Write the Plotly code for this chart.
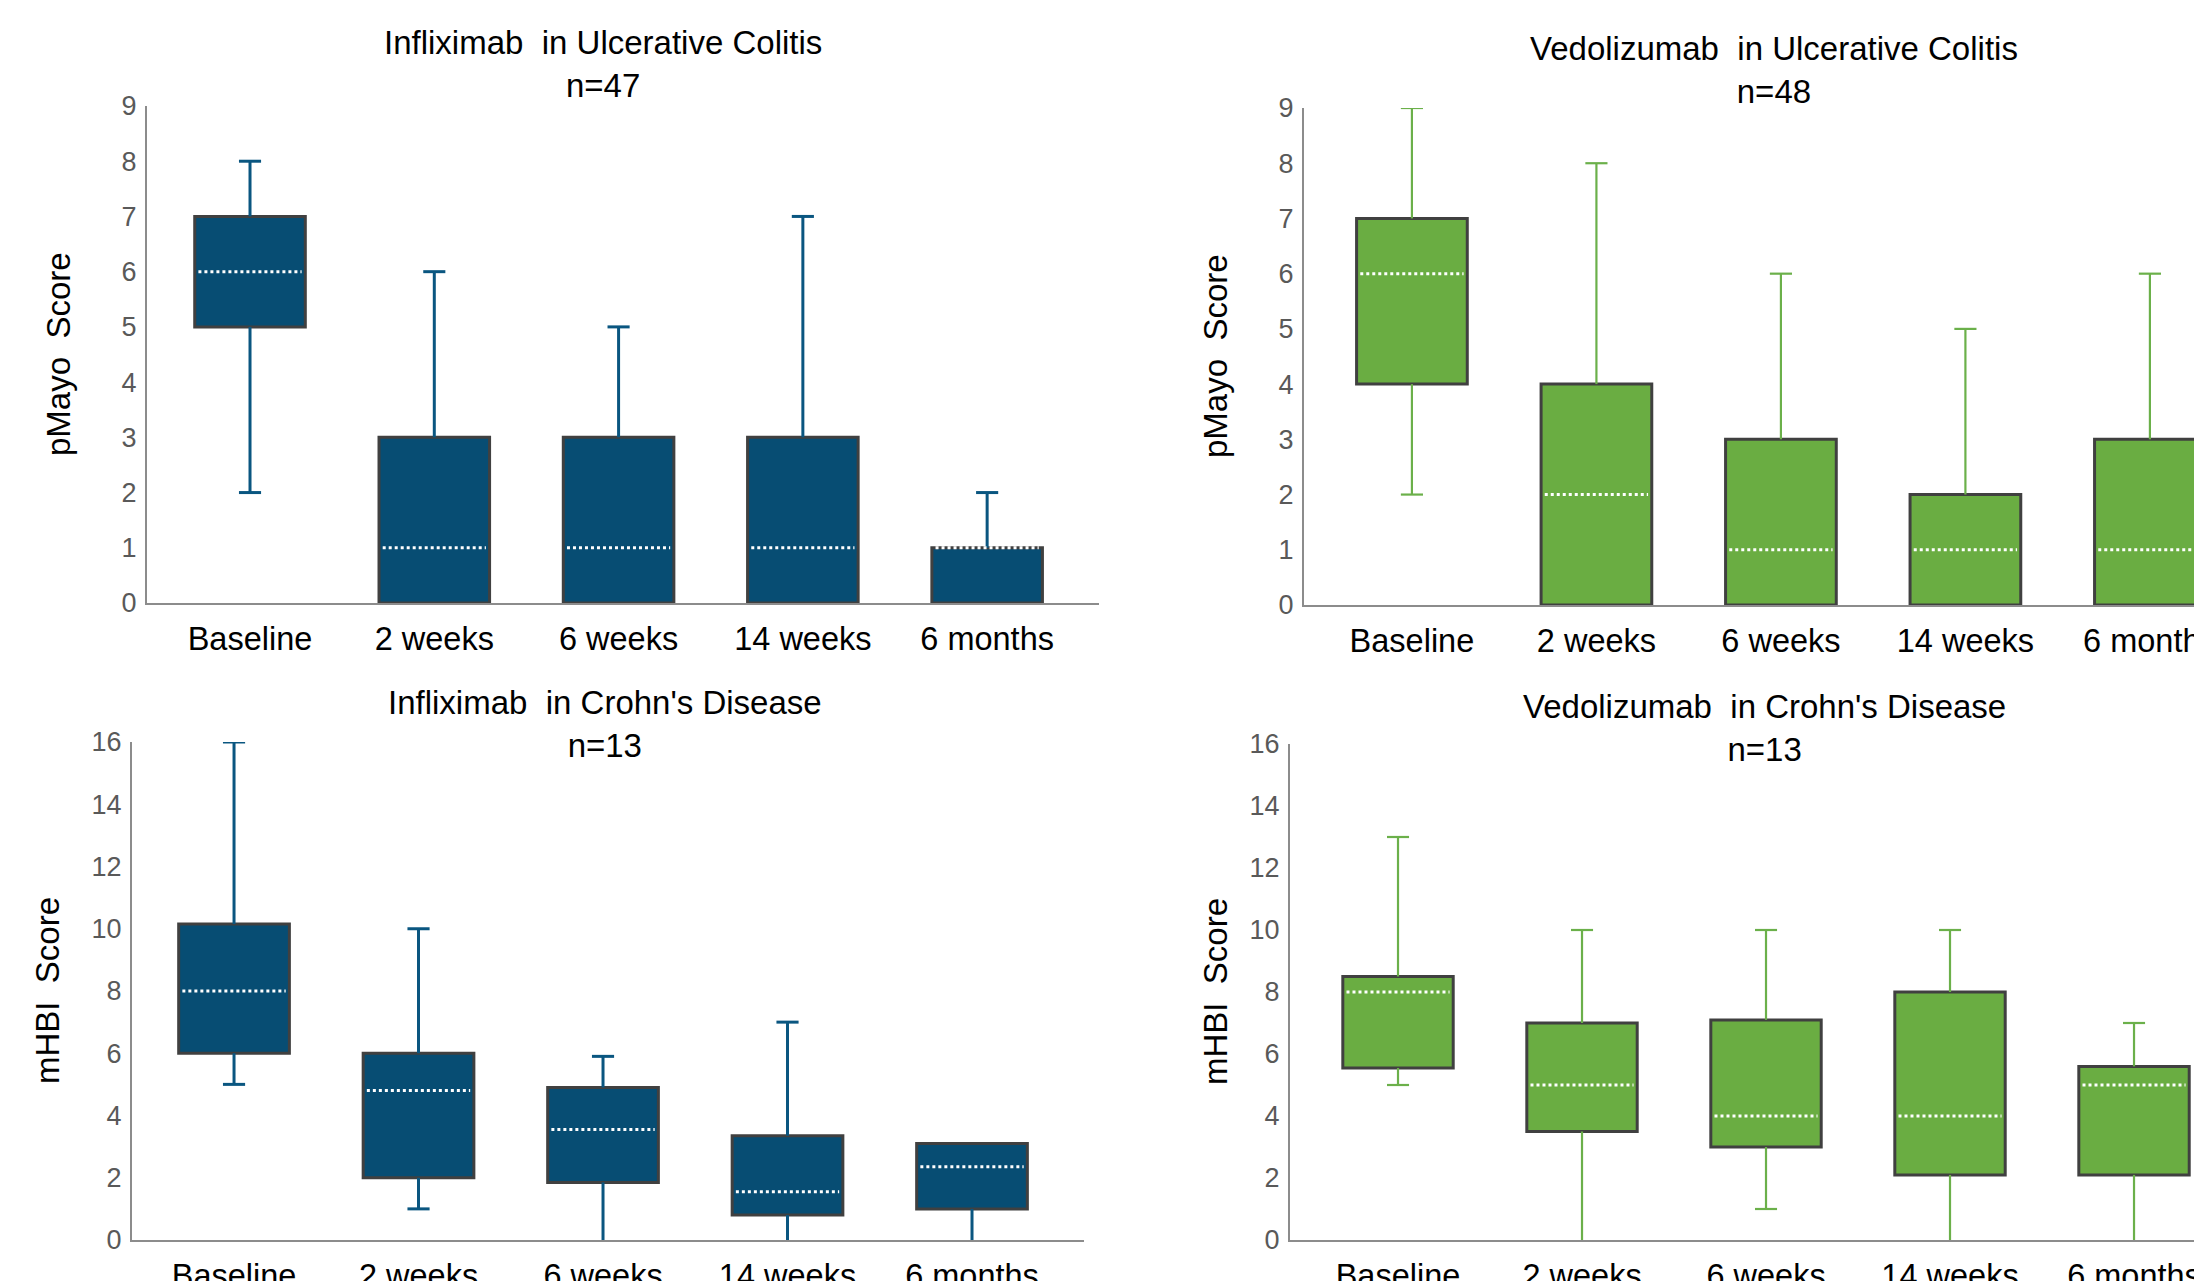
import plotly.graph_objects as go

# ---------------- data ----------------
categories = ["Baseline", "2 weeks", "6 weeks", "14 weeks", "6 months"]

# Infliximab, Ulcerative Colitis (pMayo)
ifx_uc_low = [2, 0, 0, 0, 0]
ifx_uc_q1 = [5, 0, 0, 0, 0]
ifx_uc_med = [6, 1, 1, 1, 1]
ifx_uc_q3 = [7, 3, 3, 3, 1]
ifx_uc_high = [8, 6, 5, 7, 2]

# Vedolizumab, Ulcerative Colitis (pMayo)
vdz_uc_low = [2, 0, 0, 0, 0]
vdz_uc_q1 = [4, 0, 0, 0, 0]
vdz_uc_med = [6, 2, 1, 1, 1]
vdz_uc_q3 = [7, 4, 3, 2, 3]
vdz_uc_high = [9, 8, 6, 5, 6]

# Infliximab, Crohn's Disease (mHBI)
ifx_cd_low = [5, 1, 0, 0, 0]
ifx_cd_q1 = [6, 2, 1.85, 0.8, 1]
ifx_cd_med = [8, 4.8, 3.55, 1.55, 2.35]
ifx_cd_q3 = [10.15, 6, 4.9, 3.35, 3.1]
ifx_cd_high = [16, 10, 5.9, 7, 3.1]

# Vedolizumab, Crohn's Disease (mHBI)
vdz_cd_low = [5, 0, 1, 0, 0]
vdz_cd_q1 = [5.55, 3.5, 3, 2.1, 2.1]
vdz_cd_med = [8, 5, 4, 4, 5]
vdz_cd_q3 = [8.5, 7, 7.1, 8, 5.6]
vdz_cd_high = [13, 10, 10, 10, 7]

titles = [
    "Infliximab\u00a0 in Ulcerative Colitis<br>n=47",
    "Vedolizumab\u00a0 in Ulcerative Colitis<br>n=48",
    "Infliximab\u00a0 in Crohn's Disease<br>n=13",
    "Vedolizumab\u00a0 in Crohn's Disease<br>n=13",
]
ytitles = ["pMayo\u00a0 Score", "pMayo\u00a0 Score", "mHBI\u00a0 Score", "mHBI\u00a0 Score"]

# ---------------- style ----------------
BLUE = "#074D73"
BLUE_W = "#0A5680"
GREEN = "#6AAD42"
GREEN_W = "#6BB04A"
OUTLINE = "#404040"
AXIS = "#8C8C8C"
FONT = "Liberation Sans, Arial, sans-serif"
W, H = 2194, 1281

panels = [
    dict(data=(ifx_uc_low, ifx_uc_q1, ifx_uc_med, ifx_uc_q3, ifx_uc_high), fill=BLUE, wcol=BLUE_W, ww=3,
         xdom=[147, 1099], ytop=106, ybot=603, xr=[-0.559, 4.607], yr=[0, 9], dt=1,
         tpos=(603, 64.5), ypos=(59, 354)),
    dict(data=(vdz_uc_low, vdz_uc_q1, vdz_uc_med, vdz_uc_q3, vdz_uc_high), fill=GREEN, wcol=GREEN_W, ww=2.2,
         xdom=[1304, 2194], ytop=108, ybot=605, xr=[-0.585, 4.239], yr=[0, 9], dt=1,
         tpos=(1774, 70), ypos=(1216, 356)),
    dict(data=(ifx_cd_low, ifx_cd_q1, ifx_cd_med, ifx_cd_q3, ifx_cd_high), fill=BLUE, wcol=BLUE_W, ww=3,
         xdom=[132, 1084], ytop=742, ybot=1240, xr=[-0.553, 4.607], yr=[0, 16], dt=2,
         tpos=(605, 723.5), ypos=(47, 991)),
    dict(data=(vdz_cd_low, vdz_cd_q1, vdz_cd_med, vdz_cd_q3, vdz_cd_high), fill=GREEN, wcol=GREEN_W, ww=2.2,
         xdom=[1290, 2194], ytop=744, ybot=1240, xr=[-0.587, 4.326], yr=[0, 16], dt=2,
         tpos=(1764, 727.5), ypos=(1215, 992)),
]

BOXW = 0.6
CAPW = 0.06
MEDW = 0.28

fig = go.Figure()
annotations = []
xs = list(range(len(categories)))

for k, p in enumerate(panels):
    low, q1, med, q3, high = p["data"]
    sfx = "" if k == 0 else str(k + 1)
    xa, ya = "x" + sfx, "y" + sfx

    # boxes
    fig.add_trace(go.Bar(
        x=xs, base=q1, y=[b - a for a, b in zip(q1, q3)], width=BOXW,
        marker=dict(color=p["fill"], line=dict(color=OUTLINE, width=3)),
        xaxis=xa, yaxis=ya, showlegend=False, hoverinfo="skip"))

    # whiskers and caps
    wx, wy = [], []
    for i in xs:
        if high[i] > q3[i]:
            wx += [i, i, None]; wy += [q3[i], high[i], None]
            wx += [i - CAPW, i + CAPW, None]; wy += [high[i], high[i], None]
        if low[i] < q1[i]:
            wx += [i, i, None]; wy += [q1[i], low[i], None]
            if low[i] > 0:
                wx += [i - CAPW, i + CAPW, None]; wy += [low[i], low[i], None]
    fig.add_trace(go.Scatter(
        x=wx, y=wy, mode="lines", line=dict(color=p["wcol"], width=p["ww"]),
        xaxis=xa, yaxis=ya, showlegend=False, hoverinfo="skip"))

    # medians
    mx, my = [], []
    for i in xs:
        mx += [i - MEDW, i + MEDW, None]; my += [med[i], med[i], None]
    fig.add_trace(go.Scatter(
        x=mx, y=my, mode="lines", line=dict(color="white", width=3, dash="dot"),
        xaxis=xa, yaxis=ya, showlegend=False, hoverinfo="skip"))

    xdom = [p["xdom"][0] / W, p["xdom"][1] / W]
    ydom = [1 - p["ybot"] / H, 1 - p["ytop"] / H]
    fig.update_layout(**{
        "xaxis" + sfx: dict(domain=xdom, anchor=ya, range=p["xr"], tickvals=xs, ticktext=categories,
                            showgrid=False, zeroline=False, showline=True, linecolor=AXIS, linewidth=2,
                            ticks="", automargin=False, ticklabeloverflow="allow", ticklabelstandoff=6,
                            tickfont=dict(family=FONT, size=32.5, color="black")),
        "yaxis" + sfx: dict(domain=ydom, anchor=xa, range=p["yr"], dtick=p["dt"],
                            showgrid=False, zeroline=False, showline=True, linecolor=AXIS, linewidth=2,
                            ticks="", automargin=False, ticklabeloverflow="allow", ticklabelstandoff=3,
                            tickfont=dict(family=FONT, size=27, color="#595959")),
    })

    annotations.append(dict(text=titles[k], x=p["tpos"][0] / W, y=1 - p["tpos"][1] / H,
                            xref="paper", yref="paper", xanchor="center", yanchor="middle",
                            showarrow=False, font=dict(family=FONT, size=33, color="black")))
    annotations.append(dict(text=ytitles[k], x=p["ypos"][0] / W, y=1 - p["ypos"][1] / H,
                            xref="paper", yref="paper", xanchor="center", yanchor="middle",
                            textangle=-90, showarrow=False,
                            font=dict(family=FONT, size=33, color="black")))

fig.update_layout(
    width=W, height=H, margin=dict(l=0, r=0, t=0, b=0, autoexpand=False),
    paper_bgcolor="white", plot_bgcolor="white",
    annotations=annotations, barmode="overlay",
    font=dict(family=FONT),
)

fig.write_html("out.html", config={"displayModeBar": False},
               post_script="document.body.style.margin='0';document.body.style.overflow='hidden';")
